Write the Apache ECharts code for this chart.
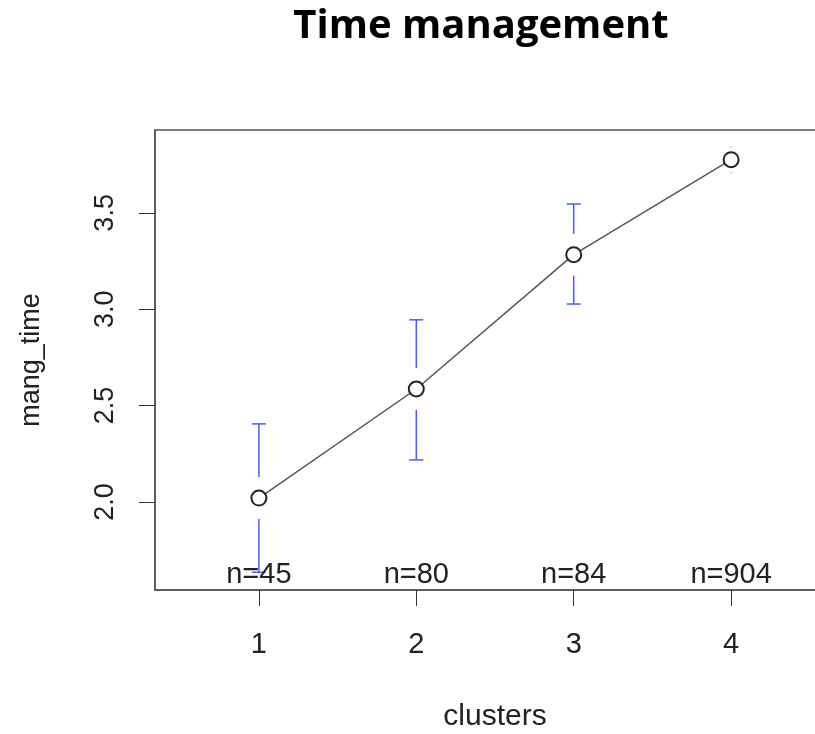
<!DOCTYPE html>
<html>
<head>
<meta charset="utf-8">
<script src="https://cdn.jsdelivr.net/npm/echarts@6/dist/echarts.min.js"></script>
<style>
  html, body { margin: 0; padding: 0; background: #fff; }
  #main { width: 815px; height: 734px; }
</style>
</head>
<body>
<div id="main"></div>
<script>
var chart = echarts.init(document.getElementById('main'));

// data
var clusters = [1, 2, 3, 4];
var means = [2.02, 2.586, 3.283, 3.776];
var upper = [2.405, 2.945, 3.546, 3.84];
var lower = [1.635, 2.218, 3.027, 3.71];
var counts = ['n=45', 'n=80', 'n=84', 'n=904'];
var yTicks = [2.0, 2.5, 3.0, 3.5];

var yMin = 1.543, yMax = 3.93;
var GAP = 21;   // R leaves a gap round the point
var CAP = 7;

var axisFont = 'Liberation Sans';

var barData = clusters.map(function (c, i) {
    return [c, means[i], lower[i], upper[i], counts[i]];
});

option = {
    animation: false,
    title: {
        text: 'Time management',
        left: 476,
        textAlign: 'center',
        top: 2,
        textStyle: { fontFamily: 'Open Sans', fontWeight: 'bold', fontSize: 40, color: '#000' }
    },
    grid: {
        left: 155, top: 130, height: 460, width: 680,
        outerBoundsMode: 'none',
        containLabel: false,
        show: true, borderColor: '#555', borderWidth: 1.5
    },
    xAxis: {
        type: 'value',
        min: 0.34, max: 4.66,
        name: 'clusters',
        nameLocation: 'middle',
        nameGap: 112,
        nameTextStyle: { fontFamily: axisFont, fontSize: 30, color: '#222' },
        splitLine: { show: false },
        axisLine: { show: true, onZero: false, lineStyle: { color: '#555', width: 1.5 } },
        axisTick: { show: true, length: 16, customValues: clusters, lineStyle: { color: '#333' } },
        axisLabel: {
            customValues: clusters, margin: 40,
            fontFamily: axisFont, fontSize: 29, color: '#222'
        }
    },
    yAxis: {
        type: 'value',
        min: yMin, max: yMax,
        name: 'mang_time',
        nameLocation: 'middle',
        nameRotate: 90,
        nameGap: 110,
        nameTextStyle: { fontFamily: axisFont, fontSize: 27, color: '#222' },
        splitLine: { show: false },
        axisLine: { show: true, lineStyle: { color: '#555', width: 1.5 } },
        axisTick: { show: true, length: 16, customValues: yTicks, lineStyle: { color: '#333' } },
        axisLabel: {
            customValues: yTicks, rotate: 90, margin: 36,
            fontFamily: axisFont, fontSize: 27, color: '#222',
            formatter: function (v) { return v.toFixed(1); }
        }
    },
    series: [{
        type: 'custom',
        data: barData,
        z: 1,
        renderItem: function (params, api) {
            var x = api.value(0);
            var mid = api.coord([x, api.value(1)]);
            var lo = api.coord([x, api.value(2)]);
            var hi = api.coord([x, api.value(3)]);
            var base = api.coord([x, yMin]);
            var blue = '#4a5cff';
            var kids = [];
            if (mid[1] - GAP > hi[1]) {
                kids.push({ type: 'line', shape: { x1: mid[0], y1: mid[1] - GAP, x2: hi[0], y2: hi[1] }, style: { stroke: blue, lineWidth: 1.5 } });
                kids.push({ type: 'line', shape: { x1: hi[0] - CAP, y1: hi[1], x2: hi[0] + CAP, y2: hi[1] }, style: { stroke: blue, lineWidth: 1.5 } });
            } else {
                kids.push({ type: 'line', shape: { x1: hi[0], y1: hi[1] - 1, x2: hi[0], y2: hi[1] + 1 }, style: { stroke: blue, lineWidth: 1.5, opacity: 0.35 } });
            }
            if (mid[1] + GAP < lo[1]) {
                kids.push({ type: 'line', shape: { x1: mid[0], y1: mid[1] + GAP, x2: lo[0], y2: lo[1] }, style: { stroke: blue, lineWidth: 1.5 } });
                kids.push({ type: 'line', shape: { x1: lo[0] - CAP, y1: lo[1], x2: lo[0] + CAP, y2: lo[1] }, style: { stroke: blue, lineWidth: 1.5 } });
            } else {
                kids.push({ type: 'line', shape: { x1: lo[0], y1: lo[1] - 1, x2: lo[0], y2: lo[1] + 1 }, style: { stroke: blue, lineWidth: 1.5, opacity: 0.35 } });
            }
            kids.push({
                type: 'text',
                x: base[0], y: base[1] - 1,
                style: {
                    text: api.value(4), textAlign: 'center', textVerticalAlign: 'bottom',
                    fontFamily: axisFont, fontSize: 29, fill: '#222'
                },
                z2: 10
            });
            return { type: 'group', children: kids };
        }
    }, {
        type: 'line',
        data: clusters.map(function (c, i) { return [c, means[i]]; }),
        z: 3,
        symbol: 'emptyCircle',
        symbolSize: 15,
        lineStyle: { color: '#555', width: 1.5 },
        itemStyle: { color: '#222', borderWidth: 1.2 }
    }]
};
chart.setOption(option);
</script>
</body>
</html>
